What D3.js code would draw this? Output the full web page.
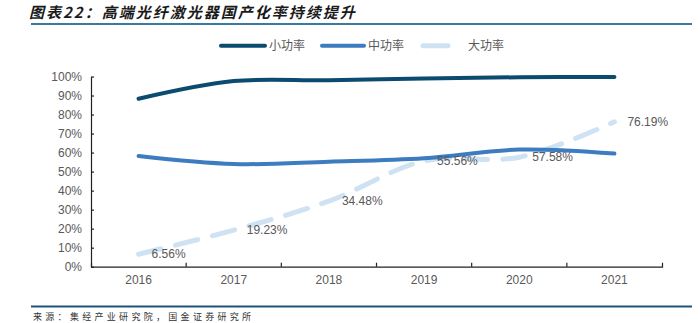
<!DOCTYPE html>
<html><head><meta charset="utf-8">
<script src="https://cdn.jsdelivr.net/npm/d3@7"></script>
<style>
html,body{margin:0;padding:0;background:#fff;}
svg{display:block;}
</style></head>
<body>
<svg id="c" width="700" height="323"></svg>
<script>
const years = ["2016","2017","2018","2019","2020","2021"];
const small = [88.3, 97.6, 98.0, 99.0, 99.6, 99.8];
const medium = [58.2, 54.0, 55.2, 57.0, 61.6, 59.5];
const large = [6.56, 19.23, 34.48, 55.56, 57.58, 76.19];
const largeLabels = ["6.56%","19.23%","34.48%","55.56%","57.58%","76.19%"];
const yTicks = [0,10,20,30,40,50,60,70,80,90,100];
const seriesNames = ["小功率","中功率","大功率"];

const svg = d3.select("#c");
const font = "'Liberation Sans', Arial, sans-serif";
const cjk = "'Noto Sans CJK SC', sans-serif";
const grey = "#595959";

// title
svg.append("text").attr("x",29).attr("y",17.5)
  .attr("font-family",cjk).attr("font-size",15).attr("font-weight","bold")
  .attr("font-style","italic").attr("letter-spacing",2).attr("fill","#1a1a1a")
  .text("图表22：高端光纤激光器国产化率持续提升");
svg.append("line").attr("x1",31).attr("x2",692).attr("y1",24).attr("y2",24)
  .attr("stroke","#3a7a9c").attr("stroke-width",2);

// bottom rule & source
svg.append("line").attr("x1",31).attr("x2",692).attr("y1",306.5).attr("y2",306.5)
  .attr("stroke","#1c5479").attr("stroke-width",2);
svg.append("text").attr("x",33).attr("y",320)
  .attr("font-family",cjk).attr("font-size",9).attr("letter-spacing",3.3).attr("fill","#333")
  .text("来源：集经产业研究院，国金证券研究所");

const x = d3.scaleBand().domain(years).range([91,662]);
const y = d3.scaleLinear().domain([0,100]).range([266.7,76.5]);
const cx = d => x(d) + x.bandwidth()/2;

// y axis
const ya = svg.append("g").attr("transform","translate(91,0)")
  .call(d3.axisLeft(y).tickValues(yTicks).tickFormat(d=>d+"%").tickSizeInner(-3).tickSizeOuter(0).tickPadding(9));
ya.selectAll("text").attr("font-family",font).attr("font-size",12).attr("fill",grey);
ya.selectAll("line,path").attr("stroke","#222").attr("stroke-width",1.2);

// x axis
const xa = svg.append("g").attr("transform","translate(0,266.7)")
  .call(d3.axisBottom(x).tickSizeInner(0).tickSizeOuter(-4).tickPadding(9));
xa.selectAll("text").attr("font-family",font).attr("font-size",12).attr("fill",grey);
xa.selectAll("path").attr("stroke","#222").attr("stroke-width",1.2);
xa.selectAll(".bt").data(years.slice(1)).enter().append("line")
  .attr("x1",d=>x(d)).attr("x2",d=>x(d)).attr("y1",0).attr("y2",-4)
  .attr("stroke","#222").attr("stroke-width",1.2);

const line = d3.line().x((d,i)=>cx(years[i])).y(d=>y(d)).curve(d3.curveCatmullRom.alpha(0.5));

svg.append("path").attr("d",line(large)).attr("fill","none")
  .attr("stroke","#cfe2f3").attr("stroke-width",5).attr("stroke-linecap","round")
  .attr("stroke-dasharray","23,15");
svg.append("path").attr("d",line(medium)).attr("fill","none")
  .attr("stroke","#3d7cbf").attr("stroke-width",4).attr("stroke-linecap","round");
svg.append("path").attr("d",line(small)).attr("fill","none")
  .attr("stroke","#0b4b6f").attr("stroke-width",4).attr("stroke-linecap","round");

// labels
svg.selectAll(".lbl").data(large).enter().append("text")
  .attr("x",(d,i)=>cx(years[i])+13).attr("y",d=>y(d)).attr("dy","0.35em")
  .attr("font-family",font).attr("font-size",12).attr("fill",grey)
  .text((d,i)=>largeLabels[i]);

// legend
const leg = [
  {x1:221,x2:265,tx:269,c:"#0b4b6f",w:4,dash:null},
  {x1:322,x2:364,tx:368,c:"#3d7cbf",w:4,dash:null},
  {x1:423,x2:448,tx:468,c:"#cfe2f3",w:5,dash:null}
];
leg.forEach((l,i)=>{
  svg.append("line").attr("x1",l.x1).attr("x2",l.x2).attr("y1",45.7).attr("y2",45.7)
    .attr("stroke",l.c).attr("stroke-width",l.w).attr("stroke-linecap","round");
  svg.append("text").attr("x",l.tx).attr("y",45.7).attr("dy","0.36em")
    .attr("font-family",cjk).attr("font-size",12).attr("fill",grey).text(seriesNames[i]);
});
</script>
</body></html>
